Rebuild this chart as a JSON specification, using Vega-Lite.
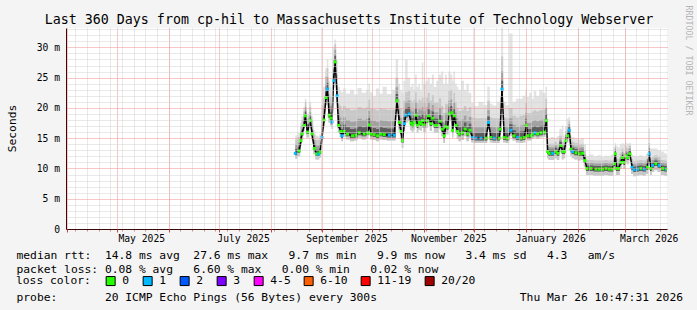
{
  "$schema": "https://vega.github.io/schema/vega-lite/v6.json",
  "width": 601,
  "height": 201,
  "autosize": {"type": "none"},
  "padding": {"left": 66, "top": 28, "right": 30, "bottom": 81},
  "background": "#f4f4f4",
  "config": {
    "view": {"fill": "#ffffff", "stroke": null},
    "font": "DejaVu Sans Mono",
    "axis": {"labelFont": "DejaVu Sans Mono", "titleFont": "DejaVu Sans Mono"}
  },
  "data": {
    "values": [
      {"t":"2025-08-15T19:00","med":12.5,"lo":11.6,"q1":12.2,"q3":13.2,"p75":13.9,"p90":14.8,"hi":15.5,"loss":"1"},
      {"t":"2025-08-18T05:00","med":12.9,"lo":12.0,"q1":12.6,"q3":13.6,"p75":14.3,"p90":15.2,"hi":15.9,"loss":"0"},
      {"t":"2025-08-19T05:00","med":14.6,"lo":13.7,"q1":14.3,"q3":15.3,"p75":16.0,"p90":16.9,"hi":17.6,"loss":"0"},
      {"t":"2025-08-19T19:00","med":15.7,"lo":14.8,"q1":15.4,"q3":16.4,"p75":17.1,"p90":18.0,"hi":18.7,"loss":"0"},
      {"t":"2025-08-21T05:00","med":17.1,"lo":16.2,"q1":16.8,"q3":17.8,"p75":18.5,"p90":19.4,"hi":20.1,"loss":"0"},
      {"t":"2025-08-21T19:00","med":18.7,"lo":17.8,"q1":18.4,"q3":19.4,"p75":20.1,"p90":21.0,"hi":21.5,"loss":"0"},
      {"t":"2025-08-23T02:00","med":16.0,"lo":15.1,"q1":15.7,"q3":16.7,"p75":17.4,"p90":18.3,"hi":19.0,"loss":"0"},
      {"t":"2025-08-24T19:00","med":17.9,"lo":17.0,"q1":17.6,"q3":18.6,"p75":19.3,"p90":20.2,"hi":21.0,"loss":"0"},
      {"t":"2025-08-25T19:00","med":15.7,"lo":14.8,"q1":15.4,"q3":16.4,"p75":17.1,"p90":18.0,"hi":18.7,"loss":"0"},
      {"t":"2025-08-27T05:00","med":13.3,"lo":12.4,"q1":13.0,"q3":14.0,"p75":14.7,"p90":15.6,"hi":16.3,"loss":"0"},
      {"t":"2025-08-28T12:00","med":12.4,"lo":11.5,"q1":12.1,"q3":13.1,"p75":13.8,"p90":14.7,"hi":15.4,"loss":"0"},
      {"t":"2025-08-29T17:00","med":12.4,"lo":11.5,"q1":12.1,"q3":13.1,"p75":13.8,"p90":14.7,"hi":15.4,"loss":"1"},
      {"t":"2025-08-30T17:00","med":12.7,"lo":11.8,"q1":12.4,"q3":13.4,"p75":14.1,"p90":15.0,"hi":15.7,"loss":"0"},
      {"t":"2025-08-31T19:00","med":15.1,"lo":13.9,"q1":14.7,"q3":16.1,"p75":17.1,"p90":18.6,"hi":20.5,"loss":"1"},
      {"t":"2025-09-02T00:00","med":18.0,"lo":16.8,"q1":17.6,"q3":19.0,"p75":20.0,"p90":21.5,"hi":23.5,"loss":"0"},
      {"t":"2025-09-03T05:00","med":21.7,"lo":20.5,"q1":21.3,"q3":22.7,"p75":23.7,"p90":25.2,"hi":26.5,"loss":"0"},
      {"t":"2025-09-04T02:00","med":23.1,"lo":21.9,"q1":22.7,"q3":24.1,"p75":25.1,"p90":26.6,"hi":28.0,"loss":"1"},
      {"t":"2025-09-05T02:00","med":18.8,"lo":17.6,"q1":18.4,"q3":19.8,"p75":20.8,"p90":22.3,"hi":24.5,"loss":"0"},
      {"t":"2025-09-06T05:00","med":18.3,"lo":17.1,"q1":17.9,"q3":19.3,"p75":20.3,"p90":21.8,"hi":23.5,"loss":"0"},
      {"t":"2025-09-06T19:00","med":17.7,"lo":16.5,"q1":17.3,"q3":18.7,"p75":19.7,"p90":21.2,"hi":23.0,"loss":"1"},
      {"t":"2025-09-07T17:00","med":24.5,"lo":23.3,"q1":24.1,"q3":25.5,"p75":26.5,"p90":28.0,"hi":30.0,"loss":"1"},
      {"t":"2025-09-08T17:00","med":27.6,"lo":26.4,"q1":27.2,"q3":28.6,"p75":29.6,"p90":30.5,"hi":31.3,"loss":"0"},
      {"t":"2025-09-09T19:00","med":22.0,"lo":20.8,"q1":21.6,"q3":23.0,"p75":24.0,"p90":25.5,"hi":28.0,"loss":"1"},
      {"t":"2025-09-10T17:00","med":17.1,"lo":15.9,"q1":16.7,"q3":18.1,"p75":19.1,"p90":20.6,"hi":23.5,"loss":"0"},
      {"t":"2025-09-12T02:00","med":16.1,"lo":15.2,"q1":15.7,"q3":17.2,"p75":18.4,"p90":20.3,"hi":22.9,"loss":"0"},
      {"t":"2025-09-12T17:00","med":15.4,"lo":14.5,"q1":15.0,"q3":16.5,"p75":17.7,"p90":19.6,"hi":22.6,"loss":"1"},
      {"t":"2025-09-14T02:00","med":16.1,"lo":15.2,"q1":15.7,"q3":17.2,"p75":18.4,"p90":20.3,"hi":23.2,"loss":"0"},
      {"t":"2025-09-16T02:00","med":15.7,"lo":14.8,"q1":15.3,"q3":16.8,"p75":18.0,"p90":19.9,"hi":22.4,"loss":"0"},
      {"t":"2025-09-19T02:00","med":15.4,"lo":14.5,"q1":15.0,"q3":16.5,"p75":17.7,"p90":19.6,"hi":23.0,"loss":"0"},
      {"t":"2025-09-21T02:00","med":15.5,"lo":14.6,"q1":15.1,"q3":16.6,"p75":17.8,"p90":19.7,"hi":22.2,"loss":"0"},
      {"t":"2025-09-23T02:00","med":15.9,"lo":15.0,"q1":15.5,"q3":17.0,"p75":18.2,"p90":20.1,"hi":23.3,"loss":"0"},
      {"t":"2025-09-26T02:00","med":15.7,"lo":14.8,"q1":15.3,"q3":16.8,"p75":18.0,"p90":19.9,"hi":22.5,"loss":"0"},
      {"t":"2025-09-28T02:00","med":15.9,"lo":15.0,"q1":15.5,"q3":17.0,"p75":18.2,"p90":20.1,"hi":23.0,"loss":"0"},
      {"t":"2025-09-29T02:00","med":17.2,"lo":16.3,"q1":16.8,"q3":18.3,"p75":19.5,"p90":21.4,"hi":24.0,"loss":"0"},
      {"t":"2025-09-30T02:00","med":15.7,"lo":14.8,"q1":15.3,"q3":16.8,"p75":18.0,"p90":19.9,"hi":22.6,"loss":"0"},
      {"t":"2025-10-02T02:00","med":15.6,"lo":14.7,"q1":15.2,"q3":16.7,"p75":17.9,"p90":19.8,"hi":22.0,"loss":"0"},
      {"t":"2025-10-04T02:00","med":15.4,"lo":14.5,"q1":15.0,"q3":16.5,"p75":17.7,"p90":19.6,"hi":23.2,"loss":"0"},
      {"t":"2025-10-06T02:00","med":15.7,"lo":14.8,"q1":15.3,"q3":16.8,"p75":18.0,"p90":19.9,"hi":22.4,"loss":"0"},
      {"t":"2025-10-08T02:00","med":15.6,"lo":14.7,"q1":15.2,"q3":16.7,"p75":17.9,"p90":19.8,"hi":23.5,"loss":"0"},
      {"t":"2025-10-11T02:00","med":15.5,"lo":14.6,"q1":15.1,"q3":16.6,"p75":17.8,"p90":19.7,"hi":22.3,"loss":"1"},
      {"t":"2025-10-14T02:00","med":15.5,"lo":14.6,"q1":15.1,"q3":16.6,"p75":17.8,"p90":19.7,"hi":23.0,"loss":"1"},
      {"t":"2025-10-15T17:00","med":21.2,"lo":20.0,"q1":20.8,"q3":22.3,"p75":23.4,"p90":25.0,"hi":28.1,"loss":"0"},
      {"t":"2025-10-17T02:00","med":17.6,"lo":16.4,"q1":17.2,"q3":18.7,"p75":19.8,"p90":21.4,"hi":24.0,"loss":"0"},
      {"t":"2025-10-18T02:00","med":16.1,"lo":14.9,"q1":15.7,"q3":17.2,"p75":18.3,"p90":19.9,"hi":23.0,"loss":"0"},
      {"t":"2025-10-19T00:00","med":14.6,"lo":13.4,"q1":14.2,"q3":15.7,"p75":16.8,"p90":18.4,"hi":22.5,"loss":"0"},
      {"t":"2025-10-20T02:00","med":17.4,"lo":16.2,"q1":17.0,"q3":18.5,"p75":19.6,"p90":21.2,"hi":24.5,"loss":"1"},
      {"t":"2025-10-21T02:00","med":18.8,"lo":17.6,"q1":18.4,"q3":19.9,"p75":21.0,"p90":22.6,"hi":28.0,"loss":"1"},
      {"t":"2025-10-23T02:00","med":19.0,"lo":17.8,"q1":18.6,"q3":20.1,"p75":21.2,"p90":22.8,"hi":25.0,"loss":"1"},
      {"t":"2025-10-24T02:00","med":17.5,"lo":16.3,"q1":17.1,"q3":18.6,"p75":19.7,"p90":21.3,"hi":23.5,"loss":"0"},
      {"t":"2025-10-25T02:00","med":17.2,"lo":16.0,"q1":16.8,"q3":18.3,"p75":19.4,"p90":21.0,"hi":24.0,"loss":"0"},
      {"t":"2025-10-26T02:00","med":17.6,"lo":16.4,"q1":17.2,"q3":18.7,"p75":19.8,"p90":21.4,"hi":23.0,"loss":"0"},
      {"t":"2025-10-27T02:00","med":18.8,"lo":17.6,"q1":18.4,"q3":19.9,"p75":21.0,"p90":22.6,"hi":25.5,"loss":"0"},
      {"t":"2025-10-28T00:00","med":17.1,"lo":15.9,"q1":16.7,"q3":18.2,"p75":19.3,"p90":20.9,"hi":23.5,"loss":"0"},
      {"t":"2025-10-29T02:00","med":17.6,"lo":16.4,"q1":17.2,"q3":18.7,"p75":19.8,"p90":21.4,"hi":24.0,"loss":"0"},
      {"t":"2025-10-30T02:00","med":17.4,"lo":16.2,"q1":17.0,"q3":18.5,"p75":19.6,"p90":21.2,"hi":23.0,"loss":"0"},
      {"t":"2025-10-31T00:00","med":17.9,"lo":16.7,"q1":17.5,"q3":19.0,"p75":20.1,"p90":21.7,"hi":27.5,"loss":"0"},
      {"t":"2025-11-01T00:00","med":17.2,"lo":16.0,"q1":16.8,"q3":18.3,"p75":19.4,"p90":21.0,"hi":24.0,"loss":"0"},
      {"t":"2025-11-02T17:00","med":17.9,"lo":16.7,"q1":17.5,"q3":19.0,"p75":20.1,"p90":21.7,"hi":24.5,"loss":"0"},
      {"t":"2025-11-03T14:00","med":18.7,"lo":17.5,"q1":18.3,"q3":19.8,"p75":20.9,"p90":22.5,"hi":25.0,"loss":"0"},
      {"t":"2025-11-05T02:00","med":17.4,"lo":16.2,"q1":17.0,"q3":18.5,"p75":19.6,"p90":21.2,"hi":24.0,"loss":"0"},
      {"t":"2025-11-06T02:00","med":18.3,"lo":17.1,"q1":17.9,"q3":19.4,"p75":20.5,"p90":22.1,"hi":25.5,"loss":"0"},
      {"t":"2025-11-07T12:00","med":17.1,"lo":15.9,"q1":16.7,"q3":18.2,"p75":19.3,"p90":20.9,"hi":23.5,"loss":"0"},
      {"t":"2025-11-09T00:00","med":17.1,"lo":15.9,"q1":16.7,"q3":18.2,"p75":19.3,"p90":20.9,"hi":24.5,"loss":"0"},
      {"t":"2025-11-10T14:00","med":17.8,"lo":16.6,"q1":17.4,"q3":18.9,"p75":20.0,"p90":21.6,"hi":25.5,"loss":"0"},
      {"t":"2025-11-11T19:00","med":16.5,"lo":15.3,"q1":16.1,"q3":17.6,"p75":18.7,"p90":20.3,"hi":26.0,"loss":"0"},
      {"t":"2025-11-13T00:00","med":15.4,"lo":14.2,"q1":15.0,"q3":16.5,"p75":17.6,"p90":19.2,"hi":24.0,"loss":"0"},
      {"t":"2025-11-14T00:00","med":16.9,"lo":15.7,"q1":16.5,"q3":18.0,"p75":19.1,"p90":20.7,"hi":25.5,"loss":"0"},
      {"t":"2025-11-15T00:00","med":16.8,"lo":15.6,"q1":16.4,"q3":17.9,"p75":19.0,"p90":20.6,"hi":24.0,"loss":"0"},
      {"t":"2025-11-16T00:00","med":19.0,"lo":17.8,"q1":18.6,"q3":20.1,"p75":21.2,"p90":22.8,"hi":26.0,"loss":"0"},
      {"t":"2025-11-17T14:00","med":19.2,"lo":18.0,"q1":18.8,"q3":20.3,"p75":21.4,"p90":23.0,"hi":25.5,"loss":"0"},
      {"t":"2025-11-18T00:00","med":16.3,"lo":15.1,"q1":15.9,"q3":17.4,"p75":18.5,"p90":20.1,"hi":24.5,"loss":"0"},
      {"t":"2025-11-19T00:00","med":18.7,"lo":17.5,"q1":18.3,"q3":19.8,"p75":20.9,"p90":22.5,"hi":26.0,"loss":"0"},
      {"t":"2025-11-20T00:00","med":17.1,"lo":15.9,"q1":16.7,"q3":18.2,"p75":19.3,"p90":20.9,"hi":24.0,"loss":"0"},
      {"t":"2025-11-21T00:00","med":16.1,"lo":14.9,"q1":15.7,"q3":17.2,"p75":18.3,"p90":19.9,"hi":23.5,"loss":"0"},
      {"t":"2025-11-22T00:00","med":15.7,"lo":14.5,"q1":15.3,"q3":16.8,"p75":17.9,"p90":19.5,"hi":23.0,"loss":"0"},
      {"t":"2025-11-24T00:00","med":15.9,"lo":14.7,"q1":15.5,"q3":17.0,"p75":18.1,"p90":19.7,"hi":24.5,"loss":"0"},
      {"t":"2025-11-25T14:00","med":16.5,"lo":15.3,"q1":16.1,"q3":17.6,"p75":18.7,"p90":20.3,"hi":23.0,"loss":"0"},
      {"t":"2025-11-27T00:00","med":15.7,"lo":14.5,"q1":15.3,"q3":16.8,"p75":17.9,"p90":19.5,"hi":24.0,"loss":"0"},
      {"t":"2025-11-28T10:00","med":16.3,"lo":15.1,"q1":15.9,"q3":17.4,"p75":18.5,"p90":20.1,"hi":22.5,"loss":"0"},
      {"t":"2025-11-30T00:00","med":15.1,"lo":14.3,"q1":14.7,"q3":16.0,"p75":16.9,"p90":18.4,"hi":20.8,"loss":"1"},
      {"t":"2025-12-02T00:00","med":15.0,"lo":14.2,"q1":14.6,"q3":15.9,"p75":16.8,"p90":18.3,"hi":20.3,"loss":"1"},
      {"t":"2025-12-05T00:00","med":15.0,"lo":14.2,"q1":14.6,"q3":15.9,"p75":16.8,"p90":18.3,"hi":21.0,"loss":"1"},
      {"t":"2025-12-08T00:00","med":15.0,"lo":14.2,"q1":14.6,"q3":15.9,"p75":16.8,"p90":18.3,"hi":20.5,"loss":"0"},
      {"t":"2025-12-09T14:00","med":17.6,"lo":16.4,"q1":17.1,"q3":18.6,"p75":19.6,"p90":21.2,"hi":23.5,"loss":"1"},
      {"t":"2025-12-11T00:00","med":15.1,"lo":14.3,"q1":14.7,"q3":16.0,"p75":16.9,"p90":18.4,"hi":20.7,"loss":"0"},
      {"t":"2025-12-13T00:00","med":15.0,"lo":14.2,"q1":14.6,"q3":15.9,"p75":16.8,"p90":18.3,"hi":20.4,"loss":"1"},
      {"t":"2025-12-16T00:00","med":15.0,"lo":14.2,"q1":14.6,"q3":15.9,"p75":16.8,"p90":18.3,"hi":21.0,"loss":"0"},
      {"t":"2025-12-16T14:00","med":16.5,"lo":15.5,"q1":16.0,"q3":17.5,"p75":18.5,"p90":20.0,"hi":22.0,"loss":"0"},
      {"t":"2025-12-17T14:00","med":23.1,"lo":21.8,"q1":22.6,"q3":24.5,"p75":26.0,"p90":28.5,"hi":33.2,"loss":"1"},
      {"t":"2025-12-19T00:00","med":15.1,"lo":14.3,"q1":14.7,"q3":16.0,"p75":16.9,"p90":18.4,"hi":21.0,"loss":"0"},
      {"t":"2025-12-20T22:00","med":15.0,"lo":14.2,"q1":14.6,"q3":15.9,"p75":16.8,"p90":18.3,"hi":20.5,"loss":"0"},
      {"t":"2025-12-22T22:00","med":16.3,"lo":15.3,"q1":15.8,"q3":17.3,"p75":18.3,"p90":20.0,"hi":32.3,"loss":"1"},
      {"t":"2025-12-24T22:00","med":15.4,"lo":14.6,"q1":15.0,"q3":16.3,"p75":17.2,"p90":18.7,"hi":21.0,"loss":"0"},
      {"t":"2025-12-26T22:00","med":15.1,"lo":14.3,"q1":14.7,"q3":16.0,"p75":16.9,"p90":18.4,"hi":21.5,"loss":"1"},
      {"t":"2025-12-28T22:00","med":15.0,"lo":14.2,"q1":14.6,"q3":16.1,"p75":17.1,"p90":18.7,"hi":21.5,"loss":"0"},
      {"t":"2025-12-30T22:00","med":15.1,"lo":14.3,"q1":14.7,"q3":16.2,"p75":17.2,"p90":18.8,"hi":22.0,"loss":"0"},
      {"t":"2026-01-01T07:00","med":17.1,"lo":16.3,"q1":16.7,"q3":18.2,"p75":19.2,"p90":20.8,"hi":23.0,"loss":"0"},
      {"t":"2026-01-01T22:00","med":15.4,"lo":14.6,"q1":15.0,"q3":16.5,"p75":17.5,"p90":19.1,"hi":21.8,"loss":"0"},
      {"t":"2026-01-03T22:00","med":15.4,"lo":14.6,"q1":15.0,"q3":16.5,"p75":17.5,"p90":19.1,"hi":22.5,"loss":"0"},
      {"t":"2026-01-04T22:00","med":15.7,"lo":14.9,"q1":15.3,"q3":16.8,"p75":17.8,"p90":19.4,"hi":21.5,"loss":"0"},
      {"t":"2026-01-06T07:00","med":15.9,"lo":15.1,"q1":15.5,"q3":17.0,"p75":18.0,"p90":19.6,"hi":22.8,"loss":"1"},
      {"t":"2026-01-07T22:00","med":15.7,"lo":14.9,"q1":15.3,"q3":16.8,"p75":17.8,"p90":19.4,"hi":22.0,"loss":"0"},
      {"t":"2026-01-09T22:00","med":15.9,"lo":15.1,"q1":15.5,"q3":17.0,"p75":18.0,"p90":19.6,"hi":23.0,"loss":"0"},
      {"t":"2026-01-11T22:00","med":16.0,"lo":15.2,"q1":15.6,"q3":17.1,"p75":18.1,"p90":19.7,"hi":22.5,"loss":"0"},
      {"t":"2026-01-13T07:00","med":17.9,"lo":16.9,"q1":17.4,"q3":19.0,"p75":20.0,"p90":21.5,"hi":23.5,"loss":"0"},
      {"t":"2026-01-13T22:00","med":12.8,"lo":11.7,"q1":12.4,"q3":13.4,"p75":13.8,"p90":14.4,"hi":15.3,"loss":"0"},
      {"t":"2026-01-14T22:00","med":12.5,"lo":11.4,"q1":12.1,"q3":13.1,"p75":13.5,"p90":14.1,"hi":15.0,"loss":"0"},
      {"t":"2026-01-16T22:00","med":12.5,"lo":11.4,"q1":12.1,"q3":13.1,"p75":13.5,"p90":14.1,"hi":15.2,"loss":"1"},
      {"t":"2026-01-18T22:00","med":12.8,"lo":11.7,"q1":12.4,"q3":13.4,"p75":13.8,"p90":14.4,"hi":15.0,"loss":"0"},
      {"t":"2026-01-19T22:00","med":12.5,"lo":11.4,"q1":12.1,"q3":13.1,"p75":13.5,"p90":14.1,"hi":15.3,"loss":"0"},
      {"t":"2026-01-21T22:00","med":13.8,"lo":12.7,"q1":13.4,"q3":14.4,"p75":14.8,"p90":15.4,"hi":16.5,"loss":"0"},
      {"t":"2026-01-22T22:00","med":12.8,"lo":11.5,"q1":12.4,"q3":13.4,"p75":13.8,"p90":14.4,"hi":17.1,"loss":"0"},
      {"t":"2026-01-23T22:00","med":12.8,"lo":11.7,"q1":12.4,"q3":13.4,"p75":13.8,"p90":14.4,"hi":15.5,"loss":"0"},
      {"t":"2026-01-24T22:00","med":14.6,"lo":13.5,"q1":14.2,"q3":15.2,"p75":15.6,"p90":16.2,"hi":17.0,"loss":"0"},
      {"t":"2026-01-25T22:00","med":15.4,"lo":14.3,"q1":15.0,"q3":16.0,"p75":16.4,"p90":17.0,"hi":18.2,"loss":"0"},
      {"t":"2026-01-26T22:00","med":16.3,"lo":15.2,"q1":15.9,"q3":16.9,"p75":17.3,"p90":17.9,"hi":18.5,"loss":"1"},
      {"t":"2026-01-27T22:00","med":13.2,"lo":12.1,"q1":12.8,"q3":13.8,"p75":14.2,"p90":14.8,"hi":15.5,"loss":"0"},
      {"t":"2026-01-28T22:00","med":12.8,"lo":11.7,"q1":12.4,"q3":13.4,"p75":13.8,"p90":14.4,"hi":15.2,"loss":"1"},
      {"t":"2026-01-30T22:00","med":12.6,"lo":11.5,"q1":12.2,"q3":13.2,"p75":13.6,"p90":14.2,"hi":15.0,"loss":"0"},
      {"t":"2026-02-01T22:00","med":12.4,"lo":11.3,"q1":12.0,"q3":13.0,"p75":13.4,"p90":14.0,"hi":14.8,"loss":"0"},
      {"t":"2026-02-03T22:00","med":12.5,"lo":11.4,"q1":12.1,"q3":13.1,"p75":13.5,"p90":14.1,"hi":15.0,"loss":"0"},
      {"t":"2026-02-05T07:00","med":11.3,"lo":10.3,"q1":10.9,"q3":11.9,"p75":12.3,"p90":12.9,"hi":14.0,"loss":"0"},
      {"t":"2026-02-06T12:00","med":10.0,"lo":8.9,"q1":9.6,"q3":10.5,"p75":10.9,"p90":11.4,"hi":12.1,"loss":"0"},
      {"t":"2026-02-08T22:00","med":10.0,"lo":8.9,"q1":9.6,"q3":10.5,"p75":10.9,"p90":11.4,"hi":12.3,"loss":"0"},
      {"t":"2026-02-11T22:00","med":9.9,"lo":8.8,"q1":9.5,"q3":10.4,"p75":10.8,"p90":11.3,"hi":12.0,"loss":"0"},
      {"t":"2026-02-13T22:00","med":9.9,"lo":8.8,"q1":9.5,"q3":10.4,"p75":10.8,"p90":11.3,"hi":12.2,"loss":"0"},
      {"t":"2026-02-15T19:00","med":9.9,"lo":8.8,"q1":9.5,"q3":10.4,"p75":10.8,"p90":11.3,"hi":11.9,"loss":"0"},
      {"t":"2026-02-17T22:00","med":10.0,"lo":8.9,"q1":9.6,"q3":10.5,"p75":10.9,"p90":11.4,"hi":12.1,"loss":"0"},
      {"t":"2026-02-19T22:00","med":9.9,"lo":8.8,"q1":9.5,"q3":10.4,"p75":10.8,"p90":11.3,"hi":12.0,"loss":"0"},
      {"t":"2026-02-21T19:00","med":9.9,"lo":8.8,"q1":9.5,"q3":10.4,"p75":10.8,"p90":11.3,"hi":12.3,"loss":"0"},
      {"t":"2026-02-22T22:00","med":10.8,"lo":9.7,"q1":10.4,"q3":11.3,"p75":11.7,"p90":12.2,"hi":13.5,"loss":"0"},
      {"t":"2026-02-23T12:00","med":12.4,"lo":11.0,"q1":12.0,"q3":12.9,"p75":13.3,"p90":13.8,"hi":14.2,"loss":"0"},
      {"t":"2026-02-24T05:00","med":10.0,"lo":8.9,"q1":9.6,"q3":10.5,"p75":10.9,"p90":11.6,"hi":13.8,"loss":"0"},
      {"t":"2026-02-25T10:00","med":10.0,"lo":8.9,"q1":9.6,"q3":10.5,"p75":10.9,"p90":11.6,"hi":13.5,"loss":"0"},
      {"t":"2026-02-26T22:00","med":11.0,"lo":9.9,"q1":10.6,"q3":11.5,"p75":11.9,"p90":12.6,"hi":14.0,"loss":"0"},
      {"t":"2026-02-27T19:00","med":11.8,"lo":10.7,"q1":11.4,"q3":12.3,"p75":12.7,"p90":13.3,"hi":14.2,"loss":"0"},
      {"t":"2026-02-28T19:00","med":11.0,"lo":9.9,"q1":10.6,"q3":11.5,"p75":11.9,"p90":12.6,"hi":14.0,"loss":"0"},
      {"t":"2026-03-01T22:00","med":12.1,"lo":11.0,"q1":11.7,"q3":12.6,"p75":13.0,"p90":13.5,"hi":14.3,"loss":"0"},
      {"t":"2026-03-02T19:00","med":11.8,"lo":10.7,"q1":11.4,"q3":12.3,"p75":12.7,"p90":13.3,"hi":14.1,"loss":"0"},
      {"t":"2026-03-04T07:00","med":12.4,"lo":11.3,"q1":12.0,"q3":12.9,"p75":13.3,"p90":13.8,"hi":14.2,"loss":"0"},
      {"t":"2026-03-05T12:00","med":10.2,"lo":9.1,"q1":9.8,"q3":10.7,"p75":11.1,"p90":11.6,"hi":12.3,"loss":"1"},
      {"t":"2026-03-06T19:00","med":9.8,"lo":8.7,"q1":9.4,"q3":10.3,"p75":10.7,"p90":11.2,"hi":12.1,"loss":"1"},
      {"t":"2026-03-08T19:00","med":9.9,"lo":8.8,"q1":9.5,"q3":10.4,"p75":10.8,"p90":11.3,"hi":12.0,"loss":"1"},
      {"t":"2026-03-10T19:00","med":10.0,"lo":8.9,"q1":9.6,"q3":10.5,"p75":10.9,"p90":11.4,"hi":12.2,"loss":"0"},
      {"t":"2026-03-12T19:00","med":9.9,"lo":8.8,"q1":9.5,"q3":10.4,"p75":10.8,"p90":11.3,"hi":12.0,"loss":"1"},
      {"t":"2026-03-14T19:00","med":10.2,"lo":9.1,"q1":9.8,"q3":10.7,"p75":11.1,"p90":11.6,"hi":12.4,"loss":"0"},
      {"t":"2026-03-15T19:00","med":12.4,"lo":11.2,"q1":12.0,"q3":12.9,"p75":13.4,"p90":14.2,"hi":16.6,"loss":"1"},
      {"t":"2026-03-16T19:00","med":10.0,"lo":8.9,"q1":9.6,"q3":10.5,"p75":10.9,"p90":11.6,"hi":13.3,"loss":"0"},
      {"t":"2026-03-17T19:00","med":10.5,"lo":9.4,"q1":10.1,"q3":11.0,"p75":11.4,"p90":11.9,"hi":13.3,"loss":"1"},
      {"t":"2026-03-19T19:00","med":10.8,"lo":9.7,"q1":10.4,"q3":11.3,"p75":11.7,"p90":12.2,"hi":13.3,"loss":"0"},
      {"t":"2026-03-21T19:00","med":10.5,"lo":9.4,"q1":10.1,"q3":11.0,"p75":11.4,"p90":11.9,"hi":13.0,"loss":"1"},
      {"t":"2026-03-23T19:00","med":10.0,"lo":8.9,"q1":9.6,"q3":10.5,"p75":10.9,"p90":11.4,"hi":12.8,"loss":"0"},
      {"t":"2026-03-25T19:00","med":9.9,"lo":8.8,"q1":9.5,"q3":10.4,"p75":10.8,"p90":11.3,"hi":12.5,"loss":"1"},
      {"t":"2026-03-26T10:00","med":9.9,"lo":8.8,"q1":9.5,"q3":10.4,"p75":10.8,"p90":11.3,"hi":12.4,"loss":"0"}
    ]
  },
  "resolve": {"axis": {"x": "independent", "y": "independent"}},
  "layer": [
    {
      "mark": {"type": "area", "color": "#e3e3e3", "interpolate": "step", "clip": true},
      "encoding": {
        "x": {
          "field": "t", "type": "temporal",
          "scale": {"domain": [{"year": 2025, "month": 3, "date": 31, "hours": 10, "minutes": 47}, {"year": 2026, "month": 3, "date": 26, "hours": 10, "minutes": 47}], "nice": false},
          "axis": {
            "orient": "bottom", "tickCount": {"interval": "week", "step": 1},
            "grid": true, "gridColor": "#d2d2d2", "gridDash": [1, 1], "gridWidth": 1,
            "labels": false, "ticks": true, "tickSize": 2, "tickColor": "#d08a8a",
            "domain": true, "domainColor": "#3a0a0a", "domainWidth": 1,
            "title": "probe:\u00a0\u00a0\u00a0\u00a0\u00a0\u00a0\u00a020 ICMP Echo Pings (56 Bytes) every 300s\u00a0\u00a0\u00a0\u00a0\u00a0\u00a0\u00a0\u00a0\u00a0\u00a0\u00a0\u00a0\u00a0\u00a0\u00a0\u00a0\u00a0\u00a0\u00a0\u00a0\u00a0Thu Mar 26 10:47:31 2026",
            "titleFont": "DejaVu Sans Mono", "titleFontSize": 11.3, "titleFontWeight": "normal",
            "titleColor": "#000000", "titleAlign": "left", "titleAnchor": "start",
            "titleBaseline": "alphabetic", "titleX": -50, "titleY": 71,
            "zindex": 1
          }
        },
        "y": {
          "field": "lo", "type": "quantitative",
          "scale": {"domain": [0, 33.2], "nice": false, "zero": false},
          "axis": {
            "orient": "left",
            "values": [0,1,2,3,4,5,6,7,8,9,10,11,12,13,14,15,16,17,18,19,20,21,22,23,24,25,26,27,28,29,30,31,32,33],
            "grid": true,
            "gridColor": {"condition": {"test": "datum.value % 5 === 0", "value": "#f09090"}, "value": "#d2d2d2"},
            "gridDash": [1, 1], "gridWidth": 1,
            "labelExpr": "datum.value % 5 === 0 ? (datum.value === 0 ? '0' : datum.value + ' m') : ''",
            "labelFont": "DejaVu Sans Mono", "labelFontSize": 9.7, "labelColor": "#000000",
            "labelPadding": 6.5, "labelOverlap": false, "labelBaseline": "middle",
            "ticks": false,
            "domain": true, "domainColor": "#3a0a0a", "domainWidth": 1,
            "title": "Seconds", "titleFont": "DejaVu Sans Mono", "titleFontSize": 11.3,
            "titleFontWeight": "normal", "titleColor": "#000000",
            "titleAngle": -90, "titleX": -54, "titleY": 100, "titleAlign": "center", "titleBaseline": "middle",
            "zindex": 1
          }
        },
        "y2": {"field": "hi"}
      }
    },
    {
      "mark": {"type": "area", "color": "#c8c8c8", "interpolate": "step", "clip": true},
      "encoding": {
        "x": {
          "field": "t", "type": "temporal",
          "scale": {"domain": [{"year": 2025, "month": 3, "date": 31, "hours": 10, "minutes": 47}, {"year": 2026, "month": 3, "date": 26, "hours": 10, "minutes": 47}], "nice": false},
          "axis": {
            "orient": "bottom", "tickCount": {"interval": "month", "step": 1},
            "grid": true, "gridColor": "#f09090", "gridDash": [1, 1], "gridWidth": 1,
            "labels": false,
            "ticks": true, "tickSize": 3, "tickColor": "#cc4444",
            "domain": false,
            "title": [
              "median rtt:\u00a0\u00a014.8 ms avg\u00a0\u00a027.6 ms max\u00a0\u00a0\u00a09.7 ms min\u00a0\u00a0\u00a09.9 ms now\u00a0\u00a0\u00a03.4 ms sd\u00a0\u00a0\u00a04.3\u00a0\u00a0\u00a0am/s",
              "packet loss: 0.08 % avg\u00a0\u00a0\u00a06.60 % max\u00a0\u00a0\u00a00.00 % min\u00a0\u00a0\u00a00.02 % now"
            ],
            "titleFont": "DejaVu Sans Mono", "titleFontSize": 11.3, "titleFontWeight": "normal",
            "titleColor": "#000000", "titleAlign": "left", "titleAnchor": "start",
            "titleBaseline": "alphabetic", "titleX": -50, "titleY": 29, "titleLineHeight": 14,
            "zindex": 1
          }
        },
        "y": {
          "field": "lo", "type": "quantitative",
          "scale": {"domain": [0, 33.2], "nice": false, "zero": false},
          "axis": {
            "orient": "right", "grid": false, "labels": false, "ticks": false, "domain": false,
            "title": "RRDTOOL / TOBI OETIKER", "titleFont": "DejaVu Sans Mono", "titleFontSize": 8.3,
            "titleFontWeight": "normal", "titleColor": "#b4b4b4", "titleAngle": 90,
            "titleX": 20, "titleY": -23, "titleAlign": "left", "titleBaseline": "middle"
          }
        },
        "y2": {"field": "p90"}
      }
    },
    {
      "mark": {"type": "area", "color": "#a2a2a2", "interpolate": "step", "clip": true},
      "encoding": {
        "x": {
          "field": "t", "type": "temporal",
          "scale": {"domain": [{"year": 2025, "month": 3, "date": 31, "hours": 10, "minutes": 47}, {"year": 2026, "month": 3, "date": 26, "hours": 10, "minutes": 47}], "nice": false},
          "axis": {
            "orient": "bottom",
            "values": [
              {"year": 2025, "month": 5, "date": 15, "hours": 12},
              {"year": 2025, "month": 7, "date": 15, "hours": 12},
              {"year": 2025, "month": 9, "date": 15, "hours": 12},
              {"year": 2025, "month": 11, "date": 15, "hours": 12},
              {"year": 2026, "month": 1, "date": 15, "hours": 12},
              {"year": 2026, "month": 3, "date": 15, "hours": 12}
            ],
            "format": "%B %Y",
            "grid": false, "ticks": false, "domain": false,
            "labelAlign": "center", "labelBaseline": "top", "labelPadding": 4,
            "labelFont": "DejaVu Sans Mono", "labelFontSize": 9.7, "labelColor": "#000000",
            "labelOverlap": false, "labelFlush": false, "labelBound": false,
            "title": null
          }
        },
        "y": {"field": "q1", "type": "quantitative", "scale": {"domain": [0, 33.2], "nice": false, "zero": false}, "axis": null},
        "y2": {"field": "p75"}
      }
    },
    {
      "mark": {"type": "area", "color": "#5e5e5e", "interpolate": "step", "clip": true},
      "encoding": {
        "x": {
          "field": "t", "type": "temporal",
          "scale": {"domain": [{"year": 2025, "month": 3, "date": 31, "hours": 10, "minutes": 47}, {"year": 2026, "month": 3, "date": 26, "hours": 10, "minutes": 47}], "nice": false},
          "axis": {
            "orient": "top", "grid": false, "ticks": false, "domain": false, "labels": false,
            "title": "Last 360 Days from cp-hil to Massachusetts Institute of Technology Webserver",
            "titleFont": "DejaVu Sans Mono", "titleFontSize": 13.3, "titleFontWeight": "normal",
            "titleColor": "#000000", "titleAlign": "center", "titleAnchor": "middle",
            "titleBaseline": "alphabetic", "titleX": 282.5, "titleY": -5
          }
        },
        "y": {"field": "q1", "type": "quantitative", "scale": {"domain": [0, 33.2], "nice": false, "zero": false}, "axis": null},
        "y2": {"field": "q3"}
      }
    },
    {
      "mark": {"type": "line", "color": "#000000", "strokeWidth": 1.5, "clip": true},
      "encoding": {
        "x": {"field": "t", "type": "temporal", "scale": {"domain": [{"year": 2025, "month": 3, "date": 31, "hours": 10, "minutes": 47}, {"year": 2026, "month": 3, "date": 26, "hours": 10, "minutes": 47}], "nice": false}, "axis": null},
        "y": {"field": "med", "type": "quantitative", "scale": {"domain": [0, 33.2], "nice": false, "zero": false}, "axis": null}
      }
    },
    {
      "mark": {"type": "point", "shape": "square", "filled": true, "size": 9, "opacity": 1, "clip": true},
      "encoding": {
        "x": {"field": "t", "type": "temporal", "scale": {"domain": [{"year": 2025, "month": 3, "date": 31, "hours": 10, "minutes": 47}, {"year": 2026, "month": 3, "date": 26, "hours": 10, "minutes": 47}], "nice": false}, "axis": null},
        "y": {"field": "med", "type": "quantitative", "scale": {"domain": [0, 33.2], "nice": false, "zero": false}, "axis": null},
        "color": {
          "field": "loss", "type": "nominal",
          "scale": {
            "domain": ["0", "1", "2", "3", "4-5", "6-10", "11-19", "20/20"],
            "range": ["#26ff00", "#00b8ff", "#0059ff", "#7e00ff", "#ff00ff", "#ff5e00", "#ff0000", "#a10000"]
          },
          "legend": {
            "orient": "none", "legendX": -50, "legendY": 247, "direction": "horizontal",
            "title": "loss color:", "titleOrient": "left", "titleFont": "DejaVu Sans Mono",
            "titleFontSize": 11.3, "titleFontWeight": "normal", "titleColor": "#000000",
            "titlePadding": 14, "titleBaseline": "middle",
            "labelFont": "DejaVu Sans Mono", "labelFontSize": 11.3, "labelColor": "#000000",
            "labelOffset": 6, "columnPadding": 11, "padding": 0,
            "symbolType": "square", "symbolSize": 81, "symbolStrokeColor": "#000000",
            "symbolStrokeWidth": 1, "symbolOpacity": 1
          }
        }
      }
    }
  ]
}
